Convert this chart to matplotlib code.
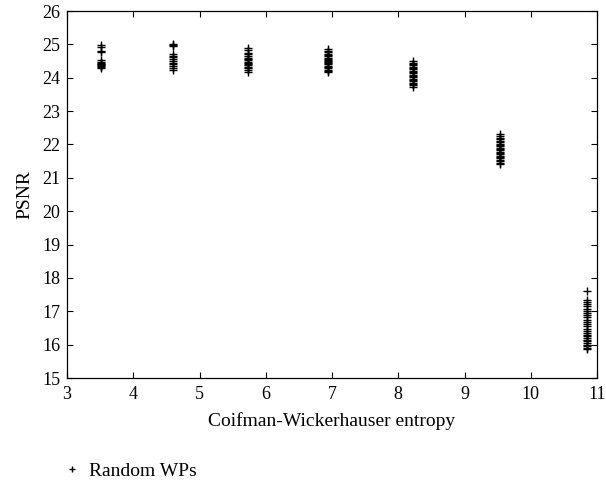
import matplotlib
matplotlib.use("Agg")
import matplotlib.pyplot as plt

plt.rcParams['font.family'] = ['Liberation Serif', 'DejaVu Serif']

# Group x positions (Coifman-Wickerhauser entropy)
entropy_groups = [3.52, 4.60, 5.73, 6.94, 8.22, 9.54, 10.85]

# PSNR values for random wavelet packets in each group
psnr_g1 = [24.97, 24.92, 24.80, 24.78, 24.52, 24.48, 24.45, 24.42, 24.40, 24.37, 24.35, 24.33, 24.30]
psnr_g2 = [25.02, 24.98, 24.95, 24.70, 24.66, 24.62, 24.55, 24.50, 24.45, 24.40, 24.35, 24.30, 24.22]
psnr_g3 = [24.88, 24.82, 24.75, 24.70, 24.65, 24.60, 24.56, 24.52, 24.48, 24.45, 24.42, 24.38,
           24.33, 24.28, 24.22, 24.18]
psnr_g4 = [24.85, 24.80, 24.76, 24.72, 24.68, 24.64, 24.60, 24.57, 24.54, 24.50, 24.47, 24.43,
           24.40, 24.36, 24.32, 24.28, 24.24, 24.20, 24.16]
psnr_g5 = [24.50, 24.45, 24.41, 24.37, 24.33, 24.29, 24.25, 24.21, 24.17, 24.13, 24.09, 24.05,
           24.01, 23.97, 23.93, 23.89, 23.85, 23.81, 23.77, 23.73]
psnr_g6 = [22.32, 22.25, 22.20, 22.15, 22.10, 22.06, 22.02, 21.98, 21.94, 21.90, 21.86, 21.82,
           21.78, 21.74, 21.70, 21.66, 21.62, 21.58, 21.54, 21.50, 21.45, 21.40]
psnr_g7 = [17.62, 17.35, 17.28, 17.22, 17.15, 17.08, 17.02, 16.95, 16.88, 16.82, 16.75, 16.68,
           16.62, 16.55, 16.48, 16.42, 16.36, 16.30, 16.25, 16.20, 16.15, 16.10, 16.05, 16.00,
           15.95, 15.90, 15.86]

psnr_groups = [psnr_g1, psnr_g2, psnr_g3, psnr_g4, psnr_g5, psnr_g6, psnr_g7]

xticks = [3, 4, 5, 6, 7, 8, 9, 10, 11]
yticks = list(range(15, 27))

fig = plt.figure(figsize=(6.06, 4.86), dpi=100)
ax = fig.add_axes([67/606, 1 - 378/486, (597 - 67)/606, (378 - 11)/486])

first = True
for xg, vals in zip(entropy_groups, psnr_groups):
    ax.plot([xg] * len(vals), vals, linestyle='none', marker='+', color='black',
            markersize=5.5, markeredgewidth=1.0,
            label='Random WPs' if first else None)
    first = False

ax.set_xlim(3, 11)
ax.set_ylim(15, 26)
ax.set_xticks(xticks)
ax.set_yticks(yticks)
ax.tick_params(direction='in', top=True, right=True, length=4, width=0.8, labelsize=13)
ax.tick_params(axis='x', pad=6)
ax.tick_params(axis='y', pad=5)
for s in ax.spines.values():
    s.set_linewidth(0.9)

ax.set_xlabel('Coifman-Wickerhauser entropy', fontsize=14, labelpad=6)
ax.set_ylabel('PSNR', fontsize=14, labelpad=6)

ax.legend(loc='upper left', bbox_to_anchor=(66/606, 1 - 462/486), bbox_transform=fig.transFigure,
          frameon=False, fontsize=14, handlelength=0.6, handletextpad=0.6, borderaxespad=0,
          borderpad=0, markerscale=0.9)

fig.savefig('out.png', dpi=100)
